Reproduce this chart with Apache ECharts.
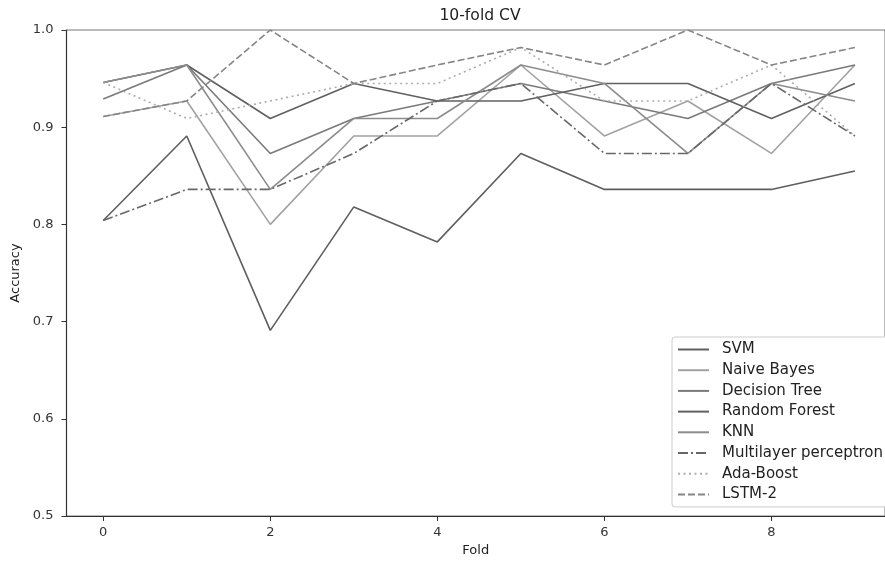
<!DOCTYPE html>
<html>
<head>
<meta charset="utf-8">
<script src="https://cdn.jsdelivr.net/npm/echarts@6/dist/echarts.min.js"></script>
<style>
  html, body { margin: 0; padding: 0; background: #fff; }
  #main { width: 885px; height: 562px; }
</style>
</head>
<body>
<div id="main"></div>
<script>
// folds 0..9
var folds = [0, 1, 2, 3, 4, 5, 6, 7, 8, 9];
var xTicks = [0, 2, 4, 6, 8];

var svm = [0.804, 0.891, 0.691, 0.818, 0.782, 0.873, 0.836, 0.836, 0.836, 0.855];
var naiveBayes = [0.911, 0.927, 0.800, 0.891, 0.891, 0.964, 0.891, 0.927, 0.873, 0.964];
var decisionTree = [0.929, 0.964, 0.873, 0.909, 0.927, 0.945, 0.927, 0.909, 0.945, 0.964];
var randomForest = [0.946, 0.964, 0.909, 0.945, 0.927, 0.927, 0.945, 0.945, 0.909, 0.945];
var knn = [0.946, 0.964, 0.836, 0.909, 0.909, 0.964, 0.945, 0.873, 0.945, 0.927];
var mlp = [0.804, 0.836, 0.836, 0.873, 0.927, 0.945, 0.873, 0.873, 0.945, 0.891];
var adaBoost = [0.946, 0.909, 0.927, 0.945, 0.945, 0.982, 0.927, 0.927, 0.964, 0.891];
var lstm2 = [0.911, 0.927, 1.000, 0.945, 0.964, 0.982, 0.964, 1.000, 0.964, 0.982];

function pairs(vals) {
  return folds.map(function (f, i) { return [f, vals[i]]; });
}

function makeLine(name, vals, color, type) {
  return {
    name: name,
    type: 'line',
    data: pairs(vals),
    symbol: 'none',
    smooth: false,
    lineStyle: { color: color, width: 1.6, type: type || 'solid' },
    itemStyle: { color: color },
    emphasis: { disabled: true }
  };
}

var font = 'DejaVu Sans';
var chart = echarts.init(document.getElementById('main'), null, { renderer: 'canvas' });

var option = {
  animation: false,
  backgroundColor: '#fff',
  title: {
    text: '10-fold CV',
    left: 475,
    textAlign: 'center',
    top: 3,
    textStyle: { fontFamily: font, fontSize: 15.6, fontWeight: 'normal', color: '#222' }
  },
  grid: {
    left: 66.5,
    right: -2,
    top: 30,
    bottom: 46,
    show: true,
    borderColor: '#777',
    borderWidth: 1
  },
  legend: {
    orient: 'vertical',
    left: 672,
    top: 337,
    padding: [5, 8, 5, 5],
    itemWidth: 31,
    itemHeight: 15,
    itemGap: 5.7,
    backgroundColor: '#fff',
    borderColor: '#ccc',
    borderWidth: 1,
    borderRadius: 3,
    itemStyle: { opacity: 0, borderWidth: 0 },
    textStyle: { fontFamily: font, fontSize: 15, color: '#222', lineHeight: 15, padding: [0, 0, 0, 8] },
    data: ['SVM', 'Naive Bayes', 'Decision Tree', 'Random Forest', 'KNN',
           'Multilayer perceptron', 'Ada-Boost', 'LSTM-2']
  },
  xAxis: {
    type: 'value',
    min: -0.44,
    max: 9.36,
    name: 'Fold',
    nameLocation: 'middle',
    nameGap: 27,
    nameTextStyle: { fontFamily: font, fontSize: 13, color: '#222' },
    splitLine: { show: false },
    axisLine: { show: true, onZero: false, lineStyle: { color: '#333', width: 1.2 } },
    axisTick: { show: true, length: 5, customValues: xTicks, lineStyle: { color: '#333' } },
    axisLabel: { customValues: xTicks, fontFamily: font, fontSize: 13, color: '#333', margin: 10 }
  },
  yAxis: {
    type: 'value',
    min: 0.5,
    max: 1.0,
    interval: 0.1,
    name: 'Accuracy',
    nameLocation: 'middle',
    nameGap: 39,
    nameTextStyle: { fontFamily: font, fontSize: 13, color: '#222' },
    splitLine: { show: false },
    axisLine: { show: true, onZero: false, lineStyle: { color: '#333', width: 1.2 } },
    axisTick: { show: true, length: 5, lineStyle: { color: '#333' } },
    axisLabel: {
      fontFamily: font, fontSize: 13, color: '#333', margin: 13,
      formatter: function (v) { return v.toFixed(1); }
    }
  },
  series: [
    makeLine('SVM', svm, '#5e5e5e'),
    makeLine('Naive Bayes', naiveBayes, '#a2a2a2'),
    makeLine('Decision Tree', decisionTree, '#7a7a7a'),
    makeLine('Random Forest', randomForest, '#606060'),
    makeLine('KNN', knn, '#8c8c8c'),
    makeLine('Multilayer perceptron', mlp, '#686868', [10, 3, 2, 3]),
    makeLine('Ada-Boost', adaBoost, '#acacac', [2, 3.5]),
    makeLine('LSTM-2', lstm2, '#868686', [7, 3])
  ]
};

chart.setOption(option);
</script>
</body>
</html>
